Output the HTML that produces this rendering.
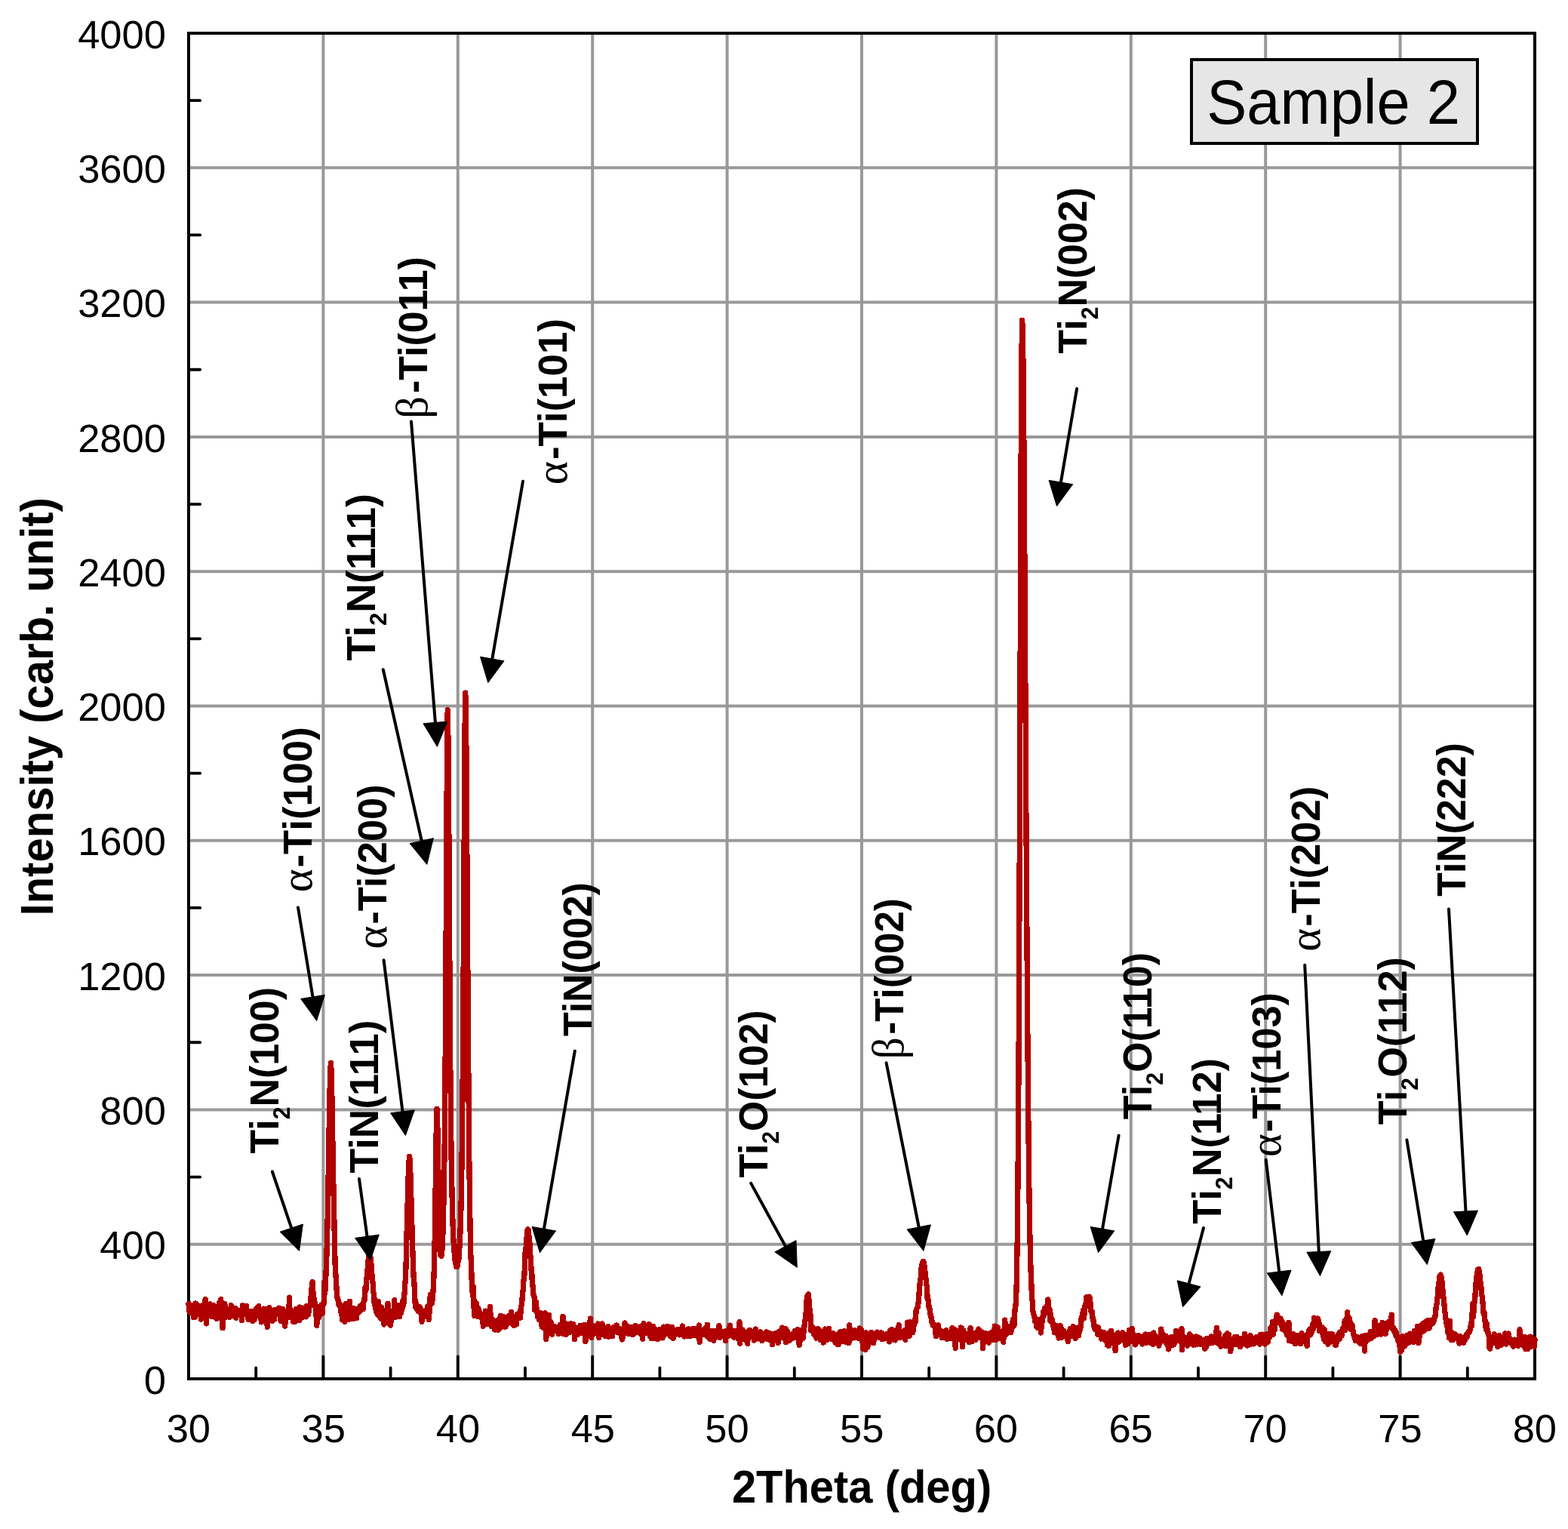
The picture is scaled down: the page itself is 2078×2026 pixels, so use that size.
<!DOCTYPE html>
<html lang="en"><head><meta charset="utf-8"><title>XRD pattern - Sample 2</title>
<style>
html,body{margin:0;padding:0;background:#fff;}
body{width:2078px;height:2026px;overflow:hidden;}
svg{display:block;}
text{white-space:pre;}
</style></head>
<body>
<svg width="2078" height="2026" viewBox="0 0 2078 2026">
<rect x="0" y="0" width="2078" height="2026" fill="#fff"/>
<path d="M428.40 44.0 V1827.0 M606.80 44.0 V1827.0 M785.20 44.0 V1827.0 M963.60 44.0 V1827.0 M1142.00 44.0 V1827.0 M1320.40 44.0 V1827.0 M1498.80 44.0 V1827.0 M1677.20 44.0 V1827.0 M1855.60 44.0 V1827.0 M250.0 1648.70 H2034.0 M250.0 1470.40 H2034.0 M250.0 1292.10 H2034.0 M250.0 1113.80 H2034.0 M250.0 935.50 H2034.0 M250.0 757.20 H2034.0 M250.0 578.90 H2034.0 M250.0 400.60 H2034.0 M250.0 222.30 H2034.0" stroke="#999999" stroke-width="4" fill="none"/>
<path d="M428.40 1827.0 v-29.6 M606.80 1827.0 v-29.6 M785.20 1827.0 v-29.6 M963.60 1827.0 v-29.6 M1142.00 1827.0 v-29.6 M1320.40 1827.0 v-29.6 M1498.80 1827.0 v-29.6 M1677.20 1827.0 v-29.6 M1855.60 1827.0 v-29.6 M339.20 1827.0 v-14.5 M517.60 1827.0 v-14.5 M696.00 1827.0 v-14.5 M874.40 1827.0 v-14.5 M1052.80 1827.0 v-14.5 M1231.20 1827.0 v-14.5 M1409.60 1827.0 v-14.5 M1588.00 1827.0 v-14.5 M1766.40 1827.0 v-14.5 M1944.80 1827.0 v-14.5 M250.0 1737.85 h15.2 M250.0 1559.55 h15.2 M250.0 1381.25 h15.2 M250.0 1202.95 h15.2 M250.0 1024.65 h15.2 M250.0 846.35 h15.2 M250.0 668.05 h15.2 M250.0 489.75 h15.2 M250.0 311.45 h15.2 M250.0 133.15 h15.2" stroke="#000" stroke-width="3.8" fill="none" stroke-linecap="round"/>
<rect x="250.0" y="44.0" width="1784.0" height="1783.0" fill="none" stroke="#000" stroke-width="4"/>
<path d="M250.0 1727.4 L250.7 1737.4 L251.4 1737.7 L252.1 1739.5 L252.9 1734.9 L253.6 1733.7 L254.3 1735.0 L255.0 1733.3 L255.7 1729.6 L256.4 1745.6 L257.1 1743.2 L257.8 1735.7 L258.6 1745.2 L259.3 1727.0 L260.0 1727.6 L260.7 1739.6 L261.4 1736.8 L262.1 1737.2 L262.8 1737.4 L263.6 1730.1 L264.3 1738.3 L265.0 1740.6 L265.7 1738.3 L266.4 1748.1 L267.1 1740.4 L267.8 1735.1 L268.6 1729.7 L269.3 1733.5 L270.0 1740.0 L270.7 1741.4 L271.4 1739.3 L272.1 1721.6 L272.8 1735.7 L273.5 1753.9 L274.3 1728.9 L275.0 1732.7 L275.7 1734.7 L276.4 1735.9 L277.1 1731.1 L277.8 1743.0 L278.5 1727.9 L279.3 1734.7 L280.0 1744.3 L280.7 1732.8 L281.4 1738.1 L282.1 1744.2 L282.8 1735.1 L283.5 1729.7 L284.3 1733.7 L285.0 1745.1 L285.7 1740.9 L286.4 1745.6 L287.1 1747.5 L287.8 1740.8 L288.5 1746.0 L289.2 1746.7 L290.0 1738.3 L290.7 1726.1 L291.4 1745.0 L292.1 1735.0 L292.8 1721.8 L293.5 1733.0 L294.2 1745.8 L295.0 1759.8 L295.7 1734.3 L296.4 1733.6 L297.1 1737.4 L297.8 1727.4 L298.5 1739.6 L299.2 1743.9 L300.0 1744.9 L300.7 1738.1 L301.4 1734.0 L302.1 1741.4 L302.8 1740.2 L303.5 1743.9 L304.2 1745.2 L304.9 1740.9 L305.7 1741.7 L306.4 1729.6 L307.1 1740.0 L307.8 1738.6 L308.5 1734.2 L309.2 1739.8 L309.9 1739.6 L310.7 1743.9 L311.4 1741.3 L312.1 1733.5 L312.8 1746.4 L313.5 1735.6 L314.2 1739.8 L314.9 1740.8 L315.7 1741.9 L316.4 1740.8 L317.1 1737.0 L317.8 1741.9 L318.5 1737.6 L319.2 1741.6 L319.9 1743.9 L320.6 1749.4 L321.4 1729.9 L322.1 1742.1 L322.8 1739.8 L323.5 1733.1 L324.2 1739.2 L324.9 1737.4 L325.6 1739.0 L326.4 1730.2 L327.1 1735.8 L327.8 1740.6 L328.5 1745.4 L329.2 1748.4 L329.9 1737.4 L330.6 1737.4 L331.4 1739.6 L332.1 1747.5 L332.8 1737.3 L333.5 1741.8 L334.2 1747.7 L334.9 1750.8 L335.6 1742.2 L336.3 1740.3 L337.1 1748.8 L337.8 1736.9 L338.5 1738.8 L339.2 1740.3 L339.9 1733.8 L340.6 1738.3 L341.3 1734.1 L342.1 1740.6 L342.8 1730.8 L343.5 1744.0 L344.2 1745.1 L344.9 1739.7 L345.6 1739.6 L346.3 1751.9 L347.0 1740.1 L347.8 1738.4 L348.5 1740.2 L349.2 1735.7 L349.9 1734.2 L350.6 1742.2 L351.3 1742.6 L352.0 1734.3 L352.8 1750.7 L353.5 1740.2 L354.2 1758.3 L354.9 1741.4 L355.6 1741.8 L356.3 1745.6 L357.0 1732.6 L357.8 1740.9 L358.5 1738.0 L359.2 1738.5 L359.9 1743.4 L360.6 1736.8 L361.3 1750.2 L362.0 1744.5 L362.7 1743.5 L363.5 1748.4 L364.2 1735.7 L364.9 1739.3 L365.6 1736.0 L366.3 1738.6 L367.0 1741.0 L367.7 1736.2 L368.5 1734.1 L369.2 1738.1 L369.9 1733.1 L370.6 1741.5 L371.3 1740.8 L372.0 1750.5 L372.7 1736.2 L373.5 1739.4 L374.2 1748.7 L374.9 1734.5 L375.6 1738.5 L376.3 1739.2 L377.0 1753.7 L377.7 1757.3 L378.4 1746.0 L379.2 1746.8 L379.9 1744.4 L380.6 1740.0 L381.3 1742.5 L382.0 1736.8 L382.7 1745.7 L383.4 1719.1 L384.2 1741.8 L384.9 1742.3 L385.6 1738.2 L386.3 1743.6 L387.0 1742.9 L387.7 1738.3 L388.4 1751.1 L389.2 1744.5 L389.9 1742.6 L390.6 1751.5 L391.3 1737.0 L392.0 1739.4 L392.7 1734.4 L393.4 1743.3 L394.1 1742.7 L394.9 1747.2 L395.6 1738.9 L396.3 1749.7 L397.0 1732.0 L397.7 1743.0 L398.4 1737.7 L399.1 1735.5 L399.9 1746.0 L400.6 1733.8 L401.3 1733.3 L402.0 1738.4 L402.7 1736.3 L403.4 1736.9 L404.1 1737.9 L404.9 1740.4 L405.6 1744.9 L406.3 1730.3 L407.0 1731.0 L407.7 1732.8 L408.4 1742.1 L409.1 1738.4 L409.8 1732.1 L410.6 1731.0 L411.3 1726.9 L412.0 1719.5 L412.7 1709.5 L413.4 1704.1 L414.1 1698.7 L414.8 1711.9 L415.6 1714.2 L416.3 1727.4 L417.0 1725.0 L417.7 1730.8 L418.4 1731.6 L419.1 1744.0 L419.8 1756.2 L420.6 1737.9 L421.3 1737.9 L422.0 1733.4 L422.7 1746.0 L423.4 1739.1 L424.1 1731.1 L424.8 1733.9 L425.5 1734.5 L426.3 1728.9 L427.0 1740.7 L427.7 1729.6 L428.4 1728.7 L429.1 1727.4 L429.8 1698.6 L430.5 1714.2 L431.3 1707.9 L432.0 1687.0 L432.7 1671.1 L433.4 1645.8 L434.1 1619.2 L434.8 1579.2 L435.5 1536.1 L436.2 1491.6 L437.0 1448.3 L437.7 1420.8 L438.4 1408.2 L439.1 1418.4 L439.8 1448.3 L440.5 1489.0 L441.2 1533.3 L442.0 1577.0 L442.7 1608.7 L443.4 1642.5 L444.1 1674.6 L444.8 1687.7 L445.5 1697.7 L446.2 1710.3 L447.0 1719.8 L447.7 1722.2 L448.4 1723.1 L449.1 1729.7 L449.8 1729.7 L450.5 1728.1 L451.2 1733.4 L451.9 1738.2 L452.7 1735.6 L453.4 1748.3 L454.1 1747.3 L454.8 1730.4 L455.5 1746.2 L456.2 1736.8 L456.9 1751.4 L457.7 1737.4 L458.4 1727.6 L459.1 1741.9 L459.8 1738.8 L460.5 1739.7 L461.2 1735.8 L461.9 1741.3 L462.7 1748.0 L463.4 1724.4 L464.1 1744.0 L464.8 1741.9 L465.5 1741.5 L466.2 1734.9 L466.9 1737.8 L467.6 1746.4 L468.4 1747.7 L469.1 1733.5 L469.8 1740.9 L470.5 1738.4 L471.2 1742.2 L471.9 1742.8 L472.6 1746.7 L473.4 1735.0 L474.1 1740.2 L474.8 1739.6 L475.5 1738.3 L476.2 1736.2 L476.9 1730.9 L477.6 1737.2 L478.4 1735.1 L479.1 1731.6 L479.8 1728.7 L480.5 1734.9 L481.2 1734.8 L481.9 1725.4 L482.6 1721.5 L483.3 1722.0 L484.1 1705.8 L484.8 1710.7 L485.5 1696.4 L486.2 1692.5 L486.9 1683.3 L487.6 1678.5 L488.3 1667.4 L489.1 1662.3 L489.8 1662.2 L490.5 1664.0 L491.2 1666.6 L491.9 1674.6 L492.6 1682.1 L493.3 1698.5 L494.1 1699.6 L494.8 1712.0 L495.5 1714.3 L496.2 1727.9 L496.9 1721.6 L497.6 1728.6 L498.3 1737.7 L499.0 1739.1 L499.8 1740.7 L500.5 1732.8 L501.2 1724.4 L501.9 1743.2 L502.6 1738.0 L503.3 1733.2 L504.0 1739.5 L504.8 1747.1 L505.5 1732.1 L506.2 1747.9 L506.9 1746.3 L507.6 1742.7 L508.3 1753.2 L509.0 1754.9 L509.8 1749.3 L510.5 1741.7 L511.2 1736.5 L511.9 1752.7 L512.6 1744.8 L513.3 1740.3 L514.0 1727.3 L514.7 1745.0 L515.5 1748.2 L516.2 1743.7 L516.9 1755.4 L517.6 1756.3 L518.3 1747.1 L519.0 1738.7 L519.7 1739.3 L520.5 1740.9 L521.2 1745.4 L521.9 1742.0 L522.6 1722.7 L523.3 1744.7 L524.0 1739.3 L524.7 1745.0 L525.4 1738.0 L526.2 1744.2 L526.9 1738.8 L527.6 1742.0 L528.3 1733.7 L529.0 1729.3 L529.7 1744.5 L530.4 1736.6 L531.2 1740.3 L531.9 1737.8 L532.6 1731.0 L533.3 1733.5 L534.0 1723.4 L534.7 1729.7 L535.4 1720.7 L536.2 1711.9 L536.9 1700.5 L537.6 1690.1 L538.3 1668.0 L539.0 1637.3 L539.7 1611.7 L540.4 1584.4 L541.1 1559.2 L541.9 1540.3 L542.6 1532.3 L543.3 1536.7 L544.0 1557.7 L544.7 1581.6 L545.4 1606.2 L546.1 1631.7 L546.9 1658.3 L547.6 1677.8 L548.3 1696.7 L549.0 1700.2 L549.7 1718.5 L550.4 1731.5 L551.1 1726.1 L551.9 1729.6 L552.6 1735.0 L553.3 1733.3 L554.0 1732.3 L554.7 1737.9 L555.4 1736.7 L556.1 1731.7 L556.8 1732.5 L557.6 1736.8 L558.3 1740.7 L559.0 1751.2 L559.7 1739.0 L560.4 1743.8 L561.1 1742.7 L561.8 1737.6 L562.6 1737.9 L563.3 1741.5 L564.0 1740.1 L564.7 1744.7 L565.4 1739.2 L566.1 1733.9 L566.8 1731.0 L567.6 1731.8 L568.3 1748.6 L569.0 1739.6 L569.7 1722.9 L570.4 1715.4 L571.1 1728.5 L571.8 1725.2 L572.5 1726.5 L573.3 1719.9 L574.0 1711.4 L574.7 1697.3 L575.4 1679.6 L576.1 1648.1 L576.8 1604.1 L577.5 1545.8 L578.3 1491.8 L579.0 1469.2 L579.7 1486.2 L580.4 1521.0 L581.1 1564.6 L581.8 1609.3 L582.5 1637.8 L583.3 1654.7 L584.0 1663.8 L584.7 1664.4 L585.4 1663.2 L586.1 1653.9 L586.8 1638.6 L587.5 1614.7 L588.2 1581.7 L589.0 1532.1 L589.7 1463.3 L590.4 1367.1 L591.1 1247.2 L591.8 1110.9 L592.5 991.8 L593.2 940.7 L594.0 981.1 L594.7 1077.5 L595.4 1199.3 L596.1 1310.9 L596.8 1410.7 L597.5 1483.5 L598.2 1540.2 L599.0 1580.0 L599.7 1610.1 L600.4 1632.6 L601.1 1646.2 L601.8 1654.1 L602.5 1665.7 L603.2 1670.8 L603.9 1674.6 L604.7 1678.5 L605.4 1676.6 L606.1 1678.2 L606.8 1673.5 L607.5 1669.4 L608.2 1666.8 L608.9 1653.3 L609.7 1638.8 L610.4 1620.9 L611.1 1595.0 L611.8 1555.3 L612.5 1498.0 L613.2 1425.7 L613.9 1327.3 L614.6 1205.7 L615.4 1075.4 L616.1 962.4 L616.8 918.0 L617.5 947.1 L618.2 1026.0 L618.9 1138.4 L619.6 1250.5 L620.4 1359.5 L621.1 1454.6 L621.8 1532.6 L622.5 1590.7 L623.2 1634.0 L623.9 1664.3 L624.6 1677.6 L625.4 1704.0 L626.1 1712.7 L626.8 1717.3 L627.5 1705.6 L628.2 1735.7 L628.9 1743.7 L629.6 1726.6 L630.3 1734.3 L631.1 1726.6 L631.8 1732.6 L632.5 1735.0 L633.2 1744.3 L633.9 1733.5 L634.6 1742.0 L635.3 1737.1 L636.1 1744.2 L636.8 1744.1 L637.5 1742.5 L638.2 1744.0 L638.9 1747.9 L639.6 1747.0 L640.3 1757.3 L641.1 1743.8 L641.8 1743.5 L642.5 1747.8 L643.2 1737.1 L643.9 1737.9 L644.6 1750.6 L645.3 1738.4 L646.0 1754.2 L646.8 1746.7 L647.5 1747.3 L648.2 1749.3 L648.9 1751.5 L649.6 1731.4 L650.3 1752.0 L651.0 1757.2 L651.8 1748.4 L652.5 1750.3 L653.2 1748.6 L653.9 1749.2 L654.6 1751.7 L655.3 1761.7 L656.0 1761.9 L656.8 1752.3 L657.5 1754.2 L658.2 1750.1 L658.9 1752.7 L659.6 1751.1 L660.3 1762.5 L661.0 1754.3 L661.7 1751.3 L662.5 1760.1 L663.2 1743.3 L663.9 1748.2 L664.6 1753.2 L665.3 1751.3 L666.0 1753.4 L666.7 1751.9 L667.5 1744.9 L668.2 1758.0 L668.9 1754.2 L669.6 1754.4 L670.3 1758.1 L671.0 1749.2 L671.7 1755.0 L672.5 1747.8 L673.2 1744.3 L673.9 1752.5 L674.6 1743.6 L675.3 1749.0 L676.0 1751.9 L676.7 1750.2 L677.4 1738.2 L678.2 1743.7 L678.9 1749.5 L679.6 1755.2 L680.3 1745.6 L681.0 1756.4 L681.7 1752.2 L682.4 1747.3 L683.2 1746.7 L683.9 1743.7 L684.6 1755.0 L685.3 1741.2 L686.0 1746.9 L686.7 1742.0 L687.4 1744.2 L688.2 1741.1 L688.9 1737.8 L689.6 1746.3 L690.3 1732.0 L691.0 1730.2 L691.7 1727.1 L692.4 1715.9 L693.1 1710.1 L693.9 1696.9 L694.6 1694.6 L695.3 1681.1 L696.0 1660.6 L696.7 1657.7 L697.4 1649.1 L698.1 1640.2 L698.9 1630.1 L699.6 1628.8 L700.3 1630.0 L701.0 1638.2 L701.7 1643.5 L702.4 1656.5 L703.1 1666.7 L703.8 1682.0 L704.6 1680.3 L705.3 1699.6 L706.0 1703.4 L706.7 1713.9 L707.4 1717.3 L708.1 1718.1 L708.8 1736.0 L709.6 1735.9 L710.3 1725.2 L711.0 1733.7 L711.7 1735.8 L712.4 1744.2 L713.1 1745.7 L713.8 1745.4 L714.6 1748.6 L715.3 1749.2 L716.0 1739.7 L716.7 1745.1 L717.4 1747.2 L718.1 1757.7 L718.8 1753.5 L719.5 1756.2 L720.3 1759.8 L721.0 1751.3 L721.7 1752.1 L722.4 1739.8 L723.1 1756.5 L723.8 1774.5 L724.5 1754.0 L725.3 1753.8 L726.0 1751.6 L726.7 1753.5 L727.4 1742.4 L728.1 1751.4 L728.8 1762.2 L729.5 1754.7 L730.3 1752.2 L731.0 1759.7 L731.7 1768.1 L732.4 1758.3 L733.1 1757.2 L733.8 1761.7 L734.5 1757.2 L735.2 1760.1 L736.0 1763.6 L736.7 1761.3 L737.4 1761.7 L738.1 1760.0 L738.8 1764.9 L739.5 1765.4 L740.2 1767.5 L741.0 1757.7 L741.7 1762.7 L742.4 1755.8 L743.1 1765.1 L743.8 1759.4 L744.5 1760.3 L745.2 1753.7 L746.0 1744.3 L746.7 1767.6 L747.4 1755.1 L748.1 1752.9 L748.8 1756.5 L749.5 1766.4 L750.2 1768.2 L750.9 1754.1 L751.7 1764.2 L752.4 1766.4 L753.1 1761.6 L753.8 1759.1 L754.5 1762.5 L755.2 1758.9 L755.9 1765.1 L756.7 1753.8 L757.4 1757.3 L758.1 1763.6 L758.8 1762.4 L759.5 1754.2 L760.2 1756.9 L760.9 1760.9 L761.7 1774.8 L762.4 1760.4 L763.1 1759.4 L763.8 1760.4 L764.5 1764.5 L765.2 1768.7 L765.9 1760.2 L766.6 1766.0 L767.4 1762.1 L768.1 1758.1 L768.8 1756.3 L769.5 1764.9 L770.2 1762.3 L770.9 1758.4 L771.6 1766.5 L772.4 1759.9 L773.1 1765.5 L773.8 1755.6 L774.5 1764.4 L775.2 1770.5 L775.9 1777.8 L776.6 1761.3 L777.4 1764.0 L778.1 1755.6 L778.8 1761.8 L779.5 1763.0 L780.2 1759.9 L780.9 1759.5 L781.6 1755.5 L782.3 1747.1 L783.1 1762.9 L783.8 1772.4 L784.5 1765.6 L785.2 1759.1 L785.9 1756.3 L786.6 1763.2 L787.3 1767.6 L788.1 1764.3 L788.8 1757.4 L789.5 1757.7 L790.2 1760.9 L790.9 1759.8 L791.6 1760.0 L792.3 1754.1 L793.0 1765.1 L793.8 1772.5 L794.5 1760.6 L795.2 1768.9 L795.9 1760.5 L796.6 1763.0 L797.3 1758.6 L798.0 1754.1 L798.8 1761.6 L799.5 1760.7 L800.2 1768.6 L800.9 1762.7 L801.6 1765.6 L802.3 1770.8 L803.0 1765.7 L803.8 1762.1 L804.5 1766.8 L805.2 1769.8 L805.9 1757.6 L806.6 1771.2 L807.3 1769.4 L808.0 1760.0 L808.7 1762.9 L809.5 1761.4 L810.2 1766.2 L810.9 1761.5 L811.6 1770.7 L812.3 1763.4 L813.0 1759.0 L813.7 1764.9 L814.5 1760.9 L815.2 1758.5 L815.9 1761.2 L816.6 1762.4 L817.3 1756.0 L818.0 1761.2 L818.7 1765.4 L819.5 1763.3 L820.2 1759.9 L820.9 1763.4 L821.6 1764.9 L822.3 1767.4 L823.0 1768.8 L823.7 1770.5 L824.4 1775.0 L825.2 1772.5 L825.9 1765.0 L826.6 1760.3 L827.3 1763.2 L828.0 1753.0 L828.7 1766.8 L829.4 1758.1 L830.2 1760.0 L830.9 1759.9 L831.6 1762.7 L832.3 1757.6 L833.0 1767.6 L833.7 1766.8 L834.4 1763.5 L835.2 1763.2 L835.9 1762.4 L836.6 1766.5 L837.3 1762.6 L838.0 1758.4 L838.7 1768.8 L839.4 1765.2 L840.1 1767.3 L840.9 1765.0 L841.6 1762.1 L842.3 1756.6 L843.0 1765.4 L843.7 1764.5 L844.4 1765.2 L845.1 1757.8 L845.9 1761.2 L846.6 1761.0 L847.3 1758.6 L848.0 1759.2 L848.7 1758.0 L849.4 1767.6 L850.1 1764.6 L850.9 1766.2 L851.6 1774.2 L852.3 1763.0 L853.0 1753.6 L853.7 1761.2 L854.4 1766.9 L855.1 1766.4 L855.8 1766.7 L856.6 1763.0 L857.3 1765.8 L858.0 1761.2 L858.7 1763.5 L859.4 1764.0 L860.1 1754.8 L860.8 1768.7 L861.6 1770.8 L862.3 1765.7 L863.0 1773.5 L863.7 1770.2 L864.4 1761.5 L865.1 1757.2 L865.8 1757.8 L866.6 1771.5 L867.3 1773.3 L868.0 1760.9 L868.7 1764.0 L869.4 1761.9 L870.1 1766.4 L870.8 1767.4 L871.5 1774.8 L872.3 1763.2 L873.0 1762.1 L873.7 1771.9 L874.4 1762.9 L875.1 1767.1 L875.8 1765.4 L876.5 1761.7 L877.3 1762.3 L878.0 1772.9 L878.7 1764.9 L879.4 1758.1 L880.1 1769.8 L880.8 1768.1 L881.5 1763.1 L882.2 1766.2 L883.0 1765.7 L883.7 1763.8 L884.4 1757.4 L885.1 1767.4 L885.8 1766.7 L886.5 1761.6 L887.2 1768.1 L888.0 1760.6 L888.7 1770.9 L889.4 1759.2 L890.1 1763.9 L890.8 1758.4 L891.5 1765.4 L892.2 1773.6 L893.0 1771.5 L893.7 1764.4 L894.4 1764.3 L895.1 1764.5 L895.8 1766.1 L896.5 1763.5 L897.2 1762.2 L897.9 1765.2 L898.7 1762.9 L899.4 1766.3 L900.1 1761.9 L900.8 1768.9 L901.5 1766.5 L902.2 1766.0 L902.9 1767.7 L903.7 1761.9 L904.4 1757.1 L905.1 1768.3 L905.8 1763.8 L906.5 1765.7 L907.2 1770.9 L907.9 1762.9 L908.7 1769.0 L909.4 1762.3 L910.1 1770.1 L910.8 1770.5 L911.5 1761.5 L912.2 1765.0 L912.9 1761.0 L913.6 1769.7 L914.4 1765.4 L915.1 1770.3 L915.8 1766.6 L916.5 1768.9 L917.2 1762.6 L917.9 1769.6 L918.6 1760.4 L919.4 1767.5 L920.1 1768.3 L920.8 1769.1 L921.5 1766.0 L922.2 1769.7 L922.9 1760.6 L923.6 1767.7 L924.4 1770.6 L925.1 1764.7 L925.8 1764.6 L926.5 1756.0 L927.2 1778.4 L927.9 1767.7 L928.6 1768.2 L929.3 1764.4 L930.1 1767.8 L930.8 1768.7 L931.5 1762.2 L932.2 1765.7 L932.9 1764.8 L933.6 1762.4 L934.3 1760.6 L935.1 1765.4 L935.8 1763.3 L936.5 1769.7 L937.2 1755.2 L937.9 1771.3 L938.6 1769.5 L939.3 1771.0 L940.1 1766.4 L940.8 1774.1 L941.5 1768.2 L942.2 1763.3 L942.9 1770.1 L943.6 1764.4 L944.3 1768.8 L945.0 1765.7 L945.8 1776.3 L946.5 1763.5 L947.2 1769.3 L947.9 1769.8 L948.6 1765.6 L949.3 1771.9 L950.0 1767.2 L950.8 1765.8 L951.5 1762.8 L952.2 1762.4 L952.9 1756.8 L953.6 1763.1 L954.3 1772.3 L955.0 1771.1 L955.8 1764.4 L956.5 1766.7 L957.2 1770.6 L957.9 1764.6 L958.6 1768.9 L959.3 1768.2 L960.0 1764.6 L960.7 1766.4 L961.5 1776.5 L962.2 1768.2 L962.9 1763.2 L963.6 1765.2 L964.3 1770.5 L965.0 1769.3 L965.7 1769.8 L966.5 1769.9 L967.2 1756.1 L967.9 1763.0 L968.6 1761.1 L969.3 1768.7 L970.0 1763.0 L970.7 1766.0 L971.4 1771.0 L972.2 1772.1 L972.9 1769.1 L973.6 1768.8 L974.3 1768.4 L975.0 1763.6 L975.7 1767.5 L976.4 1766.8 L977.2 1769.3 L977.9 1773.9 L978.6 1765.2 L979.3 1771.9 L980.0 1751.9 L980.7 1780.1 L981.4 1767.7 L982.2 1771.7 L982.9 1768.9 L983.6 1762.3 L984.3 1762.1 L985.0 1768.9 L985.7 1767.7 L986.4 1767.3 L987.1 1774.7 L987.9 1772.1 L988.6 1770.3 L989.3 1776.1 L990.0 1765.1 L990.7 1780.3 L991.4 1768.4 L992.1 1763.6 L992.9 1766.5 L993.6 1762.2 L994.3 1771.7 L995.0 1771.8 L995.7 1769.2 L996.4 1769.5 L997.1 1766.3 L997.9 1768.0 L998.6 1770.4 L999.3 1776.1 L1000.0 1763.9 L1000.7 1771.0 L1001.4 1761.0 L1002.1 1768.4 L1002.8 1770.6 L1003.6 1767.4 L1004.3 1773.9 L1005.0 1765.9 L1005.7 1771.1 L1006.4 1768.8 L1007.1 1772.1 L1007.8 1764.8 L1008.6 1767.9 L1009.3 1766.6 L1010.0 1776.7 L1010.7 1770.9 L1011.4 1774.8 L1012.1 1772.8 L1012.8 1772.0 L1013.6 1768.1 L1014.3 1766.0 L1015.0 1767.2 L1015.7 1764.7 L1016.4 1769.4 L1017.1 1774.1 L1017.8 1768.7 L1018.5 1766.1 L1019.3 1775.1 L1020.0 1768.2 L1020.7 1766.6 L1021.4 1771.7 L1022.1 1767.5 L1022.8 1775.1 L1023.5 1781.5 L1024.3 1772.0 L1025.0 1770.9 L1025.7 1770.0 L1026.4 1767.3 L1027.1 1776.8 L1027.8 1766.6 L1028.5 1766.9 L1029.3 1774.6 L1030.0 1772.1 L1030.7 1770.9 L1031.4 1779.4 L1032.1 1764.5 L1032.8 1764.7 L1033.5 1768.0 L1034.2 1763.3 L1035.0 1772.5 L1035.7 1772.6 L1036.4 1759.1 L1037.1 1767.6 L1037.8 1762.6 L1038.5 1773.2 L1039.2 1772.1 L1040.0 1767.4 L1040.7 1760.4 L1041.4 1778.8 L1042.1 1762.3 L1042.8 1771.1 L1043.5 1764.6 L1044.2 1772.7 L1045.0 1769.4 L1045.7 1769.0 L1046.4 1776.3 L1047.1 1773.7 L1047.8 1770.9 L1048.5 1769.2 L1049.2 1768.3 L1049.9 1772.2 L1050.7 1767.3 L1051.4 1773.0 L1052.1 1772.3 L1052.8 1767.5 L1053.5 1763.5 L1054.2 1769.5 L1054.9 1771.3 L1055.7 1766.7 L1056.4 1772.6 L1057.1 1761.8 L1057.8 1767.7 L1058.5 1767.3 L1059.2 1782.4 L1059.9 1771.6 L1060.6 1776.4 L1061.4 1762.8 L1062.1 1768.5 L1062.8 1769.5 L1063.5 1771.2 L1064.2 1773.6 L1064.9 1766.7 L1065.6 1761.2 L1066.4 1753.2 L1067.1 1748.8 L1067.8 1746.9 L1068.5 1731.6 L1069.2 1722.1 L1069.9 1716.9 L1070.6 1716.7 L1071.4 1714.8 L1072.1 1724.7 L1072.8 1733.0 L1073.5 1739.9 L1074.2 1742.4 L1074.9 1762.9 L1075.6 1759.2 L1076.3 1757.5 L1077.1 1758.9 L1077.8 1764.0 L1078.5 1768.2 L1079.2 1766.1 L1079.9 1761.0 L1080.6 1767.2 L1081.3 1768.5 L1082.1 1773.2 L1082.8 1765.8 L1083.5 1767.3 L1084.2 1760.9 L1084.9 1767.2 L1085.6 1762.7 L1086.3 1770.7 L1087.1 1769.2 L1087.8 1775.7 L1088.5 1766.0 L1089.2 1775.5 L1089.9 1764.8 L1090.6 1770.7 L1091.3 1779.0 L1092.0 1765.8 L1092.8 1764.2 L1093.5 1761.0 L1094.2 1776.1 L1094.9 1767.0 L1095.6 1771.3 L1096.3 1775.6 L1097.0 1771.2 L1097.8 1772.8 L1098.5 1760.2 L1099.2 1769.3 L1099.9 1770.1 L1100.6 1769.0 L1101.3 1770.4 L1102.0 1774.1 L1102.8 1769.3 L1103.5 1768.7 L1104.2 1766.6 L1104.9 1772.3 L1105.6 1770.3 L1106.3 1771.2 L1107.0 1778.6 L1107.7 1773.5 L1108.5 1774.1 L1109.2 1773.1 L1109.9 1781.4 L1110.6 1767.8 L1111.3 1781.6 L1112.0 1767.4 L1112.7 1765.3 L1113.5 1770.8 L1114.2 1768.1 L1114.9 1764.5 L1115.6 1777.5 L1116.3 1772.7 L1117.0 1775.2 L1117.7 1770.1 L1118.5 1773.6 L1119.2 1763.9 L1119.9 1774.2 L1120.6 1778.1 L1121.3 1768.1 L1122.0 1767.2 L1122.7 1770.7 L1123.4 1775.6 L1124.2 1772.0 L1124.9 1779.7 L1125.6 1755.8 L1126.3 1761.3 L1127.0 1769.1 L1127.7 1766.0 L1128.4 1774.0 L1129.2 1770.0 L1129.9 1767.1 L1130.6 1768.1 L1131.3 1772.7 L1132.0 1771.4 L1132.7 1763.0 L1133.4 1772.5 L1134.2 1770.4 L1134.9 1771.3 L1135.6 1770.7 L1136.3 1771.5 L1137.0 1767.0 L1137.7 1773.3 L1138.4 1771.2 L1139.1 1760.0 L1139.9 1760.4 L1140.6 1770.9 L1141.3 1762.0 L1142.0 1767.2 L1142.7 1766.5 L1143.4 1787.0 L1144.1 1769.5 L1144.9 1773.4 L1145.6 1766.2 L1146.3 1767.4 L1147.0 1788.4 L1147.7 1765.9 L1148.4 1774.8 L1149.1 1767.1 L1149.8 1785.1 L1150.6 1777.9 L1151.3 1767.4 L1152.0 1774.4 L1152.7 1769.0 L1153.4 1771.1 L1154.1 1768.3 L1154.8 1765.3 L1155.6 1774.2 L1156.3 1771.6 L1157.0 1773.6 L1157.7 1779.8 L1158.4 1772.3 L1159.1 1769.8 L1159.8 1772.4 L1160.6 1770.2 L1161.3 1766.6 L1162.0 1767.8 L1162.7 1765.2 L1163.4 1767.0 L1164.1 1768.9 L1164.8 1772.2 L1165.5 1766.8 L1166.3 1768.6 L1167.0 1766.2 L1167.7 1769.3 L1168.4 1766.1 L1169.1 1774.9 L1169.8 1771.4 L1170.5 1767.8 L1171.3 1773.1 L1172.0 1770.3 L1172.7 1771.2 L1173.4 1773.5 L1174.1 1772.6 L1174.8 1767.6 L1175.5 1773.6 L1176.3 1770.5 L1177.0 1768.1 L1177.7 1775.3 L1178.4 1777.9 L1179.1 1764.0 L1179.8 1770.9 L1180.5 1762.4 L1181.2 1763.6 L1182.0 1761.5 L1182.7 1773.8 L1183.4 1763.1 L1184.1 1774.2 L1184.8 1769.7 L1185.5 1768.6 L1186.2 1775.9 L1187.0 1769.4 L1187.7 1768.8 L1188.4 1767.4 L1189.1 1765.4 L1189.8 1760.6 L1190.5 1762.3 L1191.2 1755.9 L1192.0 1767.7 L1192.7 1772.6 L1193.4 1766.8 L1194.1 1771.6 L1194.8 1766.8 L1195.5 1767.3 L1196.2 1769.2 L1196.9 1768.8 L1197.7 1771.9 L1198.4 1763.0 L1199.1 1765.5 L1199.8 1775.3 L1200.5 1762.9 L1201.2 1771.2 L1201.9 1765.0 L1202.7 1752.1 L1203.4 1764.7 L1204.1 1757.0 L1204.8 1758.5 L1205.5 1770.2 L1206.2 1751.6 L1206.9 1758.8 L1207.7 1757.8 L1208.4 1758.0 L1209.1 1759.8 L1209.8 1765.5 L1210.5 1759.8 L1211.2 1756.1 L1211.9 1754.6 L1212.6 1748.4 L1213.4 1751.1 L1214.1 1736.4 L1214.8 1734.6 L1215.5 1733.4 L1216.2 1732.6 L1216.9 1727.4 L1217.6 1721.8 L1218.4 1708.7 L1219.1 1701.2 L1219.8 1695.1 L1220.5 1692.3 L1221.2 1678.7 L1221.9 1676.0 L1222.6 1672.8 L1223.4 1671.4 L1224.1 1672.6 L1224.8 1676.1 L1225.5 1681.3 L1226.2 1686.1 L1226.9 1693.1 L1227.6 1701.0 L1228.3 1704.7 L1229.1 1720.0 L1229.8 1722.1 L1230.5 1723.4 L1231.2 1733.6 L1231.9 1733.3 L1232.6 1738.4 L1233.3 1744.2 L1234.1 1744.5 L1234.8 1751.6 L1235.5 1751.2 L1236.2 1755.9 L1236.9 1755.2 L1237.6 1754.9 L1238.3 1755.1 L1239.0 1758.2 L1239.8 1765.5 L1240.5 1770.8 L1241.2 1756.2 L1241.9 1766.3 L1242.6 1764.0 L1243.3 1755.9 L1244.0 1766.9 L1244.8 1761.8 L1245.5 1762.0 L1246.2 1766.4 L1246.9 1763.9 L1247.6 1766.5 L1248.3 1772.6 L1249.0 1772.2 L1249.8 1766.6 L1250.5 1767.6 L1251.2 1769.1 L1251.9 1770.8 L1252.6 1764.2 L1253.3 1763.3 L1254.0 1762.4 L1254.7 1774.4 L1255.5 1768.7 L1256.2 1769.4 L1256.9 1767.0 L1257.6 1770.2 L1258.3 1767.9 L1259.0 1773.8 L1259.7 1768.8 L1260.5 1767.5 L1261.2 1768.0 L1261.9 1759.6 L1262.6 1769.1 L1263.3 1767.1 L1264.0 1772.0 L1264.7 1761.5 L1265.5 1766.7 L1266.2 1786.3 L1266.9 1763.9 L1267.6 1768.1 L1268.3 1767.3 L1269.0 1764.9 L1269.7 1771.6 L1270.4 1763.6 L1271.2 1765.7 L1271.9 1774.9 L1272.6 1768.0 L1273.3 1759.0 L1274.0 1768.9 L1274.7 1759.9 L1275.4 1784.7 L1276.2 1769.4 L1276.9 1763.2 L1277.6 1768.3 L1278.3 1775.7 L1279.0 1767.8 L1279.7 1771.1 L1280.4 1769.9 L1281.2 1769.8 L1281.9 1774.3 L1282.6 1767.5 L1283.3 1769.5 L1284.0 1774.0 L1284.7 1778.6 L1285.4 1773.5 L1286.1 1759.4 L1286.9 1765.4 L1287.6 1771.6 L1288.3 1777.6 L1289.0 1771.8 L1289.7 1767.5 L1290.4 1769.4 L1291.1 1766.3 L1291.9 1770.7 L1292.6 1775.6 L1293.3 1767.9 L1294.0 1766.3 L1294.7 1770.0 L1295.4 1768.3 L1296.1 1762.9 L1296.9 1761.0 L1297.6 1772.4 L1298.3 1762.8 L1299.0 1765.0 L1299.7 1771.9 L1300.4 1769.7 L1301.1 1768.5 L1301.8 1765.3 L1302.6 1786.7 L1303.3 1774.9 L1304.0 1771.1 L1304.7 1771.4 L1305.4 1768.6 L1306.1 1774.1 L1306.8 1767.0 L1307.6 1773.4 L1308.3 1771.3 L1309.0 1773.0 L1309.7 1778.5 L1310.4 1779.0 L1311.1 1768.0 L1311.8 1768.6 L1312.6 1766.1 L1313.3 1769.3 L1314.0 1770.3 L1314.7 1767.6 L1315.4 1764.8 L1316.1 1775.3 L1316.8 1767.1 L1317.5 1767.2 L1318.3 1757.1 L1319.0 1760.4 L1319.7 1765.5 L1320.4 1775.4 L1321.1 1767.3 L1321.8 1769.7 L1322.5 1758.7 L1323.3 1766.1 L1324.0 1766.4 L1324.7 1769.6 L1325.4 1767.9 L1326.1 1773.6 L1326.8 1774.0 L1327.5 1764.6 L1328.2 1768.5 L1329.0 1763.8 L1329.7 1778.4 L1330.4 1764.8 L1331.1 1769.8 L1331.8 1749.1 L1332.5 1765.8 L1333.2 1768.4 L1334.0 1763.4 L1334.7 1759.2 L1335.4 1762.7 L1336.1 1765.5 L1336.8 1760.9 L1337.5 1764.1 L1338.2 1757.9 L1339.0 1758.7 L1339.7 1765.6 L1340.4 1761.8 L1341.1 1759.2 L1341.8 1752.7 L1342.5 1748.6 L1343.2 1752.4 L1343.9 1756.5 L1344.7 1736.3 L1345.4 1737.1 L1346.1 1728.4 L1346.8 1715.8 L1347.5 1688.6 L1348.2 1644.2 L1348.9 1572.0 L1349.7 1471.2 L1350.4 1334.4 L1351.1 1164.7 L1351.8 969.6 L1352.5 769.2 L1353.2 592.6 L1353.9 469.2 L1354.7 424.2 L1355.4 442.3 L1356.1 491.8 L1356.8 574.0 L1357.5 673.8 L1358.2 789.3 L1358.9 912.9 L1359.6 1036.6 L1360.4 1157.0 L1361.1 1264.5 L1361.8 1362.5 L1362.5 1448.1 L1363.2 1520.1 L1363.9 1577.6 L1364.6 1624.1 L1365.4 1659.1 L1366.1 1684.5 L1366.8 1699.7 L1367.5 1719.4 L1368.2 1724.4 L1368.9 1737.6 L1369.6 1739.2 L1370.4 1744.1 L1371.1 1745.9 L1371.8 1751.1 L1372.5 1747.3 L1373.2 1749.9 L1373.9 1758.3 L1374.6 1759.4 L1375.3 1756.8 L1376.1 1752.1 L1376.8 1751.5 L1377.5 1748.8 L1378.2 1755.7 L1378.9 1755.5 L1379.6 1766.0 L1380.3 1753.7 L1381.1 1751.7 L1381.8 1748.0 L1382.5 1738.4 L1383.2 1743.3 L1383.9 1742.7 L1384.6 1733.4 L1385.3 1733.4 L1386.1 1736.0 L1386.8 1735.7 L1387.5 1730.3 L1388.2 1738.7 L1388.9 1722.0 L1389.6 1734.8 L1390.3 1739.3 L1391.0 1735.2 L1391.8 1750.4 L1392.5 1741.6 L1393.2 1747.7 L1393.9 1749.7 L1394.6 1749.6 L1395.3 1756.5 L1396.0 1754.0 L1396.8 1759.7 L1397.5 1765.6 L1398.2 1761.4 L1398.9 1760.9 L1399.6 1757.7 L1400.3 1756.3 L1401.0 1767.2 L1401.8 1764.2 L1402.5 1769.8 L1403.2 1772.9 L1403.9 1771.7 L1404.6 1770.7 L1405.3 1756.7 L1406.0 1758.6 L1406.7 1771.2 L1407.5 1771.9 L1408.2 1769.0 L1408.9 1770.5 L1409.6 1763.3 L1410.3 1768.2 L1411.0 1769.5 L1411.7 1766.4 L1412.5 1766.9 L1413.2 1770.9 L1413.9 1773.1 L1414.6 1771.9 L1415.3 1777.6 L1416.0 1769.9 L1416.7 1764.9 L1417.4 1768.3 L1418.2 1760.4 L1418.9 1763.7 L1419.6 1768.9 L1420.3 1767.3 L1421.0 1770.7 L1421.7 1766.3 L1422.4 1757.6 L1423.2 1769.9 L1423.9 1763.8 L1424.6 1765.0 L1425.3 1773.3 L1426.0 1759.8 L1426.7 1768.7 L1427.4 1770.2 L1428.2 1767.5 L1428.9 1761.7 L1429.6 1769.5 L1430.3 1762.9 L1431.0 1757.9 L1431.7 1761.4 L1432.4 1755.7 L1433.1 1746.2 L1433.9 1749.2 L1434.6 1746.1 L1435.3 1736.3 L1436.0 1735.4 L1436.7 1746.5 L1437.4 1731.6 L1438.1 1732.3 L1438.9 1731.0 L1439.6 1718.8 L1440.3 1721.6 L1441.0 1719.3 L1441.7 1718.7 L1442.4 1719.7 L1443.1 1721.9 L1443.9 1718.2 L1444.6 1727.9 L1445.3 1726.1 L1446.0 1737.8 L1446.7 1739.8 L1447.4 1738.3 L1448.1 1747.1 L1448.8 1747.1 L1449.6 1757.2 L1450.3 1755.6 L1451.0 1761.1 L1451.7 1760.3 L1452.4 1761.9 L1453.1 1758.7 L1453.8 1760.4 L1454.6 1768.1 L1455.3 1758.5 L1456.0 1762.6 L1456.7 1767.1 L1457.4 1766.4 L1458.1 1768.8 L1458.8 1765.8 L1459.6 1774.0 L1460.3 1765.0 L1461.0 1771.1 L1461.7 1768.3 L1462.4 1774.0 L1463.1 1765.5 L1463.8 1770.4 L1464.5 1776.2 L1465.3 1772.3 L1466.0 1774.5 L1466.7 1771.8 L1467.4 1782.2 L1468.1 1767.1 L1468.8 1767.4 L1469.5 1783.4 L1470.3 1777.2 L1471.0 1775.6 L1471.7 1772.2 L1472.4 1763.4 L1473.1 1779.5 L1473.8 1769.2 L1474.5 1770.9 L1475.3 1774.0 L1476.0 1768.9 L1476.7 1770.2 L1477.4 1777.0 L1478.1 1789.9 L1478.8 1771.6 L1479.5 1773.6 L1480.2 1773.2 L1481.0 1767.2 L1481.7 1766.1 L1482.4 1776.2 L1483.1 1778.2 L1483.8 1768.5 L1484.5 1771.6 L1485.2 1774.7 L1486.0 1774.1 L1486.7 1775.6 L1487.4 1775.8 L1488.1 1765.9 L1488.8 1768.7 L1489.5 1771.0 L1490.2 1767.9 L1491.0 1778.7 L1491.7 1782.5 L1492.4 1776.4 L1493.1 1769.7 L1493.8 1773.6 L1494.5 1780.8 L1495.2 1773.0 L1495.9 1773.5 L1496.7 1762.5 L1497.4 1769.1 L1498.1 1771.7 L1498.8 1772.2 L1499.5 1777.7 L1500.2 1760.4 L1500.9 1769.3 L1501.7 1770.7 L1502.4 1768.3 L1503.1 1778.3 L1503.8 1773.4 L1504.5 1781.9 L1505.2 1772.9 L1505.9 1774.7 L1506.6 1771.2 L1507.4 1777.0 L1508.1 1777.9 L1508.8 1769.5 L1509.5 1776.8 L1510.2 1772.1 L1510.9 1777.2 L1511.6 1772.1 L1512.4 1775.0 L1513.1 1778.3 L1513.8 1781.0 L1514.5 1779.8 L1515.2 1770.6 L1515.9 1776.7 L1516.6 1779.6 L1517.4 1773.2 L1518.1 1768.1 L1518.8 1779.5 L1519.5 1771.2 L1520.2 1771.9 L1520.9 1774.1 L1521.6 1773.6 L1522.3 1775.2 L1523.1 1768.8 L1523.8 1779.0 L1524.5 1774.5 L1525.2 1776.2 L1525.9 1774.5 L1526.6 1770.6 L1527.3 1768.7 L1528.1 1781.2 L1528.8 1766.0 L1529.5 1774.7 L1530.2 1776.0 L1530.9 1778.4 L1531.6 1774.4 L1532.3 1773.4 L1533.1 1773.5 L1533.8 1771.6 L1534.5 1772.9 L1535.2 1778.2 L1535.9 1783.0 L1536.6 1777.2 L1537.3 1775.1 L1538.0 1778.2 L1538.8 1761.1 L1539.5 1769.4 L1540.2 1768.6 L1540.9 1772.1 L1541.6 1768.4 L1542.3 1774.3 L1543.0 1772.7 L1543.8 1770.4 L1544.5 1777.7 L1545.2 1770.4 L1545.9 1780.5 L1546.6 1774.8 L1547.3 1777.3 L1548.0 1783.7 L1548.8 1787.9 L1549.5 1772.6 L1550.2 1777.7 L1550.9 1778.6 L1551.6 1781.6 L1552.3 1771.5 L1553.0 1782.8 L1553.7 1777.7 L1554.5 1779.9 L1555.2 1774.9 L1555.9 1781.6 L1556.6 1772.6 L1557.3 1772.6 L1558.0 1775.1 L1558.7 1763.5 L1559.5 1773.5 L1560.2 1767.8 L1560.9 1776.3 L1561.6 1773.3 L1562.3 1776.2 L1563.0 1775.4 L1563.7 1771.9 L1564.5 1776.7 L1565.2 1778.2 L1565.9 1760.7 L1566.6 1788.6 L1567.3 1773.4 L1568.0 1780.5 L1568.7 1770.7 L1569.4 1773.3 L1570.2 1775.1 L1570.9 1779.5 L1571.6 1779.3 L1572.3 1778.1 L1573.0 1781.3 L1573.7 1783.1 L1574.4 1772.7 L1575.2 1780.3 L1575.9 1775.1 L1576.6 1768.0 L1577.3 1776.1 L1578.0 1780.1 L1578.7 1771.2 L1579.4 1777.0 L1580.2 1771.0 L1580.9 1773.7 L1581.6 1782.3 L1582.3 1776.2 L1583.0 1776.1 L1583.7 1778.0 L1584.4 1781.9 L1585.1 1771.1 L1585.9 1778.8 L1586.6 1781.3 L1587.3 1780.6 L1588.0 1772.0 L1588.7 1775.7 L1589.4 1777.5 L1590.1 1773.1 L1590.9 1781.3 L1591.6 1774.9 L1592.3 1780.3 L1593.0 1778.2 L1593.7 1778.8 L1594.4 1777.7 L1595.1 1776.8 L1595.8 1779.3 L1596.6 1787.2 L1597.3 1775.0 L1598.0 1775.9 L1598.7 1784.9 L1599.4 1773.7 L1600.1 1777.7 L1600.8 1781.1 L1601.6 1774.7 L1602.3 1776.8 L1603.0 1779.8 L1603.7 1779.4 L1604.4 1778.1 L1605.1 1771.0 L1605.8 1778.4 L1606.6 1772.3 L1607.3 1773.9 L1608.0 1779.3 L1608.7 1774.8 L1609.4 1773.3 L1610.1 1773.4 L1610.8 1776.9 L1611.5 1777.3 L1612.3 1759.3 L1613.0 1774.3 L1613.7 1772.9 L1614.4 1780.2 L1615.1 1766.2 L1615.8 1774.7 L1616.5 1778.6 L1617.3 1781.2 L1618.0 1784.3 L1618.7 1779.6 L1619.4 1774.2 L1620.1 1778.0 L1620.8 1781.4 L1621.5 1779.0 L1622.3 1777.8 L1623.0 1773.4 L1623.7 1770.1 L1624.4 1783.5 L1625.1 1768.9 L1625.8 1778.1 L1626.5 1766.9 L1627.2 1777.3 L1628.0 1776.2 L1628.7 1768.5 L1629.4 1782.8 L1630.1 1777.0 L1630.8 1790.7 L1631.5 1778.0 L1632.2 1775.1 L1633.0 1778.0 L1633.7 1775.4 L1634.4 1776.2 L1635.1 1777.7 L1635.8 1778.2 L1636.5 1771.5 L1637.2 1774.4 L1638.0 1781.6 L1638.7 1779.1 L1639.4 1771.3 L1640.1 1773.5 L1640.8 1777.2 L1641.5 1782.2 L1642.2 1776.9 L1642.9 1776.0 L1643.7 1784.7 L1644.4 1774.7 L1645.1 1773.7 L1645.8 1774.7 L1646.5 1775.2 L1647.2 1780.9 L1647.9 1778.6 L1648.7 1777.4 L1649.4 1767.4 L1650.1 1773.6 L1650.8 1777.6 L1651.5 1779.1 L1652.2 1772.3 L1652.9 1783.0 L1653.7 1773.0 L1654.4 1771.2 L1655.1 1772.3 L1655.8 1780.6 L1656.5 1781.7 L1657.2 1769.5 L1657.9 1777.2 L1658.6 1775.3 L1659.4 1779.7 L1660.1 1778.2 L1660.8 1773.6 L1661.5 1780.9 L1662.2 1773.3 L1662.9 1777.1 L1663.6 1778.6 L1664.4 1776.2 L1665.1 1771.4 L1665.8 1774.3 L1666.5 1775.3 L1667.2 1775.2 L1667.9 1773.3 L1668.6 1779.0 L1669.4 1781.1 L1670.1 1773.5 L1670.8 1768.2 L1671.5 1772.4 L1672.2 1779.7 L1672.9 1768.1 L1673.6 1772.6 L1674.3 1771.8 L1675.1 1775.4 L1675.8 1768.9 L1676.5 1781.0 L1677.2 1771.0 L1677.9 1774.2 L1678.6 1772.3 L1679.3 1767.3 L1680.1 1778.5 L1680.8 1768.9 L1681.5 1768.0 L1682.2 1772.6 L1682.9 1769.8 L1683.6 1759.9 L1684.3 1762.6 L1685.0 1758.0 L1685.8 1763.8 L1686.5 1751.6 L1687.2 1768.1 L1687.9 1760.5 L1688.6 1758.8 L1689.3 1762.2 L1690.0 1749.7 L1690.8 1751.2 L1691.5 1749.9 L1692.2 1742.1 L1692.9 1747.7 L1693.6 1751.6 L1694.3 1751.2 L1695.0 1746.2 L1695.8 1753.3 L1696.5 1747.0 L1697.2 1747.1 L1697.9 1750.1 L1698.6 1750.2 L1699.3 1761.0 L1700.0 1753.0 L1700.7 1761.8 L1701.5 1755.7 L1702.2 1761.7 L1702.9 1763.4 L1703.6 1761.1 L1704.3 1765.8 L1705.0 1759.7 L1705.7 1769.5 L1706.5 1770.0 L1707.2 1767.9 L1707.9 1752.4 L1708.6 1776.5 L1709.3 1774.4 L1710.0 1768.1 L1710.7 1774.1 L1711.5 1773.1 L1712.2 1777.5 L1712.9 1773.1 L1713.6 1771.7 L1714.3 1767.4 L1715.0 1775.2 L1715.7 1773.0 L1716.4 1780.6 L1717.2 1777.2 L1717.9 1769.2 L1718.6 1780.0 L1719.3 1775.3 L1720.0 1773.4 L1720.7 1771.5 L1721.4 1774.9 L1722.2 1770.7 L1722.9 1772.6 L1723.6 1780.8 L1724.3 1775.7 L1725.0 1766.5 L1725.7 1777.1 L1726.4 1777.3 L1727.2 1771.9 L1727.9 1770.4 L1728.6 1776.2 L1729.3 1772.2 L1730.0 1771.2 L1730.7 1773.0 L1731.4 1769.7 L1732.1 1783.4 L1732.9 1768.1 L1733.6 1770.5 L1734.3 1764.0 L1735.0 1762.5 L1735.7 1761.3 L1736.4 1769.0 L1737.1 1763.9 L1737.9 1766.8 L1738.6 1761.9 L1739.3 1762.4 L1740.0 1754.3 L1740.7 1760.9 L1741.4 1746.1 L1742.1 1752.8 L1742.9 1754.6 L1743.6 1748.2 L1744.3 1755.6 L1745.0 1756.5 L1745.7 1756.8 L1746.4 1747.0 L1747.1 1749.9 L1747.8 1751.7 L1748.6 1763.8 L1749.3 1758.1 L1750.0 1761.9 L1750.7 1758.1 L1751.4 1763.6 L1752.1 1758.4 L1752.8 1766.7 L1753.6 1766.2 L1754.3 1774.6 L1755.0 1761.3 L1755.7 1765.0 L1756.4 1777.7 L1757.1 1769.9 L1757.8 1773.7 L1758.6 1771.5 L1759.3 1772.2 L1760.0 1781.3 L1760.7 1778.4 L1761.4 1767.5 L1762.1 1778.3 L1762.8 1770.4 L1763.5 1771.6 L1764.3 1778.2 L1765.0 1772.9 L1765.7 1767.6 L1766.4 1770.4 L1767.1 1774.8 L1767.8 1772.3 L1768.5 1774.3 L1769.3 1782.0 L1770.0 1776.8 L1770.7 1782.3 L1771.4 1776.3 L1772.1 1774.6 L1772.8 1769.3 L1773.5 1771.5 L1774.2 1774.8 L1775.0 1765.7 L1775.7 1773.8 L1776.4 1770.6 L1777.1 1766.3 L1777.8 1770.2 L1778.5 1768.9 L1779.2 1760.5 L1780.0 1762.0 L1780.7 1761.5 L1781.4 1757.1 L1782.1 1750.2 L1782.8 1762.5 L1783.5 1753.7 L1784.2 1749.7 L1785.0 1746.4 L1785.7 1738.9 L1786.4 1753.7 L1787.1 1752.1 L1787.8 1750.3 L1788.5 1747.0 L1789.2 1753.0 L1789.9 1761.5 L1790.7 1754.9 L1791.4 1757.7 L1792.1 1755.6 L1792.8 1762.4 L1793.5 1766.4 L1794.2 1769.3 L1794.9 1772.0 L1795.7 1773.0 L1796.4 1776.3 L1797.1 1776.2 L1797.8 1774.8 L1798.5 1774.2 L1799.2 1771.7 L1799.9 1775.1 L1800.7 1774.9 L1801.4 1778.5 L1802.1 1776.2 L1802.8 1775.0 L1803.5 1780.3 L1804.2 1778.1 L1804.9 1770.5 L1805.6 1775.2 L1806.4 1775.8 L1807.1 1776.4 L1807.8 1771.4 L1808.5 1790.1 L1809.2 1773.0 L1809.9 1769.4 L1810.6 1776.5 L1811.4 1773.6 L1812.1 1774.3 L1812.8 1775.4 L1813.5 1772.2 L1814.2 1768.3 L1814.9 1769.3 L1815.6 1772.3 L1816.4 1764.3 L1817.1 1773.5 L1817.8 1769.0 L1818.5 1765.2 L1819.2 1770.5 L1819.9 1770.1 L1820.6 1763.5 L1821.3 1770.1 L1822.1 1749.7 L1822.8 1768.5 L1823.5 1758.5 L1824.2 1766.0 L1824.9 1768.4 L1825.6 1756.8 L1826.3 1761.1 L1827.1 1762.4 L1827.8 1762.3 L1828.5 1763.0 L1829.2 1756.3 L1829.9 1758.3 L1830.6 1768.0 L1831.3 1761.0 L1832.1 1752.3 L1832.8 1753.9 L1833.5 1763.8 L1834.2 1758.2 L1834.9 1753.3 L1835.6 1754.2 L1836.3 1767.4 L1837.0 1757.4 L1837.8 1761.6 L1838.5 1753.4 L1839.2 1757.7 L1839.9 1755.5 L1840.6 1751.1 L1841.3 1755.2 L1842.0 1755.2 L1842.8 1749.5 L1843.5 1753.8 L1844.2 1742.1 L1844.9 1760.4 L1845.6 1761.1 L1846.3 1758.5 L1847.0 1762.9 L1847.8 1763.0 L1848.5 1761.7 L1849.2 1768.6 L1849.9 1764.2 L1850.6 1770.8 L1851.3 1769.6 L1852.0 1772.6 L1852.7 1776.4 L1853.5 1773.3 L1854.2 1773.4 L1854.9 1780.8 L1855.6 1791.3 L1856.3 1772.7 L1857.0 1777.3 L1857.7 1789.2 L1858.5 1776.4 L1859.2 1770.4 L1859.9 1772.4 L1860.6 1771.3 L1861.3 1784.0 L1862.0 1783.0 L1862.7 1775.3 L1863.4 1779.0 L1864.2 1778.8 L1864.9 1769.5 L1865.6 1770.9 L1866.3 1774.7 L1867.0 1779.3 L1867.7 1776.4 L1868.4 1767.1 L1869.2 1771.9 L1869.9 1774.4 L1870.6 1772.9 L1871.3 1773.4 L1872.0 1767.5 L1872.7 1775.5 L1873.4 1778.5 L1874.2 1763.9 L1874.9 1769.0 L1875.6 1765.7 L1876.3 1772.3 L1877.0 1768.9 L1877.7 1771.8 L1878.4 1757.4 L1879.1 1762.2 L1879.9 1779.6 L1880.6 1774.6 L1881.3 1770.7 L1882.0 1761.9 L1882.7 1766.2 L1883.4 1762.3 L1884.1 1758.8 L1884.9 1754.5 L1885.6 1753.6 L1886.3 1761.5 L1887.0 1763.8 L1887.7 1762.5 L1888.4 1756.6 L1889.1 1751.5 L1889.9 1760.5 L1890.6 1754.8 L1891.3 1752.8 L1892.0 1753.5 L1892.7 1749.4 L1893.4 1751.9 L1894.1 1760.2 L1894.8 1756.8 L1895.6 1750.8 L1896.3 1753.5 L1897.0 1749.4 L1897.7 1749.2 L1898.4 1753.9 L1899.1 1752.9 L1899.8 1751.2 L1900.6 1748.8 L1901.3 1746.4 L1902.0 1743.5 L1902.7 1737.2 L1903.4 1730.2 L1904.1 1727.6 L1904.8 1720.7 L1905.6 1716.4 L1906.3 1701.7 L1907.0 1699.6 L1907.7 1692.2 L1908.4 1690.1 L1909.1 1689.2 L1909.8 1691.3 L1910.5 1693.8 L1911.3 1702.2 L1912.0 1709.1 L1912.7 1718.2 L1913.4 1721.2 L1914.1 1730.0 L1914.8 1737.9 L1915.5 1741.9 L1916.3 1750.2 L1917.0 1753.9 L1917.7 1754.1 L1918.4 1760.8 L1919.1 1766.6 L1919.8 1764.5 L1920.5 1772.4 L1921.3 1750.3 L1922.0 1770.4 L1922.7 1773.3 L1923.4 1775.6 L1924.1 1765.7 L1924.8 1771.2 L1925.5 1775.6 L1926.2 1772.7 L1927.0 1771.8 L1927.7 1767.4 L1928.4 1769.8 L1929.1 1773.7 L1929.8 1769.5 L1930.5 1772.2 L1931.2 1774.0 L1932.0 1772.5 L1932.7 1775.2 L1933.4 1775.2 L1934.1 1780.0 L1934.8 1770.8 L1935.5 1777.2 L1936.2 1771.3 L1937.0 1772.1 L1937.7 1776.3 L1938.4 1777.8 L1939.1 1774.1 L1939.8 1779.4 L1940.5 1773.5 L1941.2 1776.4 L1941.9 1770.7 L1942.7 1769.6 L1943.4 1768.3 L1944.1 1772.0 L1944.8 1766.7 L1945.5 1767.1 L1946.2 1765.0 L1946.9 1764.0 L1947.7 1764.6 L1948.4 1761.9 L1949.1 1756.4 L1949.8 1752.2 L1950.5 1757.1 L1951.2 1737.9 L1951.9 1727.1 L1952.6 1744.6 L1953.4 1730.2 L1954.1 1724.6 L1954.8 1720.6 L1955.5 1705.8 L1956.2 1698.6 L1956.9 1691.1 L1957.6 1688.2 L1958.4 1682.2 L1959.1 1682.2 L1959.8 1681.6 L1960.5 1686.2 L1961.2 1690.6 L1961.9 1698.4 L1962.6 1701.5 L1963.4 1713.4 L1964.1 1717.7 L1964.8 1723.6 L1965.5 1732.0 L1966.2 1741.1 L1966.9 1738.7 L1967.6 1750.1 L1968.3 1749.9 L1969.1 1759.6 L1969.8 1762.4 L1970.5 1754.3 L1971.2 1764.8 L1971.9 1764.5 L1972.6 1766.8 L1973.3 1772.3 L1974.1 1786.1 L1974.8 1787.3 L1975.5 1773.7 L1976.2 1771.7 L1976.9 1774.3 L1977.6 1774.7 L1978.3 1771.7 L1979.1 1777.6 L1979.8 1777.9 L1980.5 1767.8 L1981.2 1779.8 L1981.9 1770.8 L1982.6 1772.6 L1983.3 1778.4 L1984.0 1770.2 L1984.8 1784.6 L1985.5 1780.1 L1986.2 1778.3 L1986.9 1769.5 L1987.6 1771.9 L1988.3 1773.7 L1989.0 1782.3 L1989.8 1776.8 L1990.5 1781.1 L1991.2 1773.5 L1991.9 1773.1 L1992.6 1774.4 L1993.3 1770.5 L1994.0 1776.6 L1994.8 1767.0 L1995.5 1778.4 L1996.2 1781.2 L1996.9 1769.2 L1997.6 1774.8 L1998.3 1775.7 L1999.0 1767.0 L1999.7 1776.0 L2000.5 1776.8 L2001.2 1776.2 L2001.9 1774.4 L2002.6 1775.4 L2003.3 1780.8 L2004.0 1776.4 L2004.7 1781.2 L2005.5 1784.1 L2006.2 1781.5 L2006.9 1775.9 L2007.6 1775.2 L2008.3 1780.3 L2009.0 1778.6 L2009.7 1775.3 L2010.5 1781.3 L2011.2 1781.8 L2011.9 1783.3 L2012.6 1780.0 L2013.3 1778.5 L2014.0 1761.8 L2014.7 1773.9 L2015.4 1780.5 L2016.2 1776.1 L2016.9 1780.6 L2017.6 1780.1 L2018.3 1783.0 L2019.0 1780.2 L2019.7 1781.5 L2020.4 1771.5 L2021.2 1777.4 L2021.9 1787.8 L2022.6 1774.3 L2023.3 1772.9 L2024.0 1778.0 L2024.7 1787.4 L2025.4 1781.8 L2026.2 1778.7 L2026.9 1775.3 L2027.6 1780.4 L2028.3 1771.1 L2029.0 1784.7 L2029.7 1777.6 L2030.4 1780.2 L2031.1 1778.0 L2031.9 1779.5 L2032.6 1777.5 L2033.3 1784.1 L2034.0 1774.8" stroke="#B00000" stroke-width="7.3" fill="none" stroke-linejoin="round" stroke-linecap="round" shape-rendering="crispEdges"/>
<text transform="translate(190.73 1846.60) scale(1.0090 1)" font-family="'Liberation Sans', sans-serif" font-size="52" font-weight="normal" fill="#000">0</text>
<text transform="translate(132.37 1668.30) scale(1.0090 1)" font-family="'Liberation Sans', sans-serif" font-size="52" font-weight="normal" fill="#000">400</text>
<text transform="translate(132.37 1490.00) scale(1.0090 1)" font-family="'Liberation Sans', sans-serif" font-size="52" font-weight="normal" fill="#000">800</text>
<text transform="translate(103.19 1311.70) scale(1.0090 1)" font-family="'Liberation Sans', sans-serif" font-size="52" font-weight="normal" fill="#000">1200</text>
<text transform="translate(103.19 1133.40) scale(1.0090 1)" font-family="'Liberation Sans', sans-serif" font-size="52" font-weight="normal" fill="#000">1600</text>
<text transform="translate(103.19 955.10) scale(1.0090 1)" font-family="'Liberation Sans', sans-serif" font-size="52" font-weight="normal" fill="#000">2000</text>
<text transform="translate(103.19 776.80) scale(1.0090 1)" font-family="'Liberation Sans', sans-serif" font-size="52" font-weight="normal" fill="#000">2400</text>
<text transform="translate(103.19 598.50) scale(1.0090 1)" font-family="'Liberation Sans', sans-serif" font-size="52" font-weight="normal" fill="#000">2800</text>
<text transform="translate(103.19 420.20) scale(1.0090 1)" font-family="'Liberation Sans', sans-serif" font-size="52" font-weight="normal" fill="#000">3200</text>
<text transform="translate(103.19 241.90) scale(1.0090 1)" font-family="'Liberation Sans', sans-serif" font-size="52" font-weight="normal" fill="#000">3600</text>
<text transform="translate(103.19 63.60) scale(1.0090 1)" font-family="'Liberation Sans', sans-serif" font-size="52" font-weight="normal" fill="#000">4000</text>
<text transform="translate(220.65 1911.20) scale(1.0090 1)" font-family="'Liberation Sans', sans-serif" font-size="52" font-weight="normal" fill="#000">30</text>
<text transform="translate(399.46 1911.20) scale(1.0090 1)" font-family="'Liberation Sans', sans-serif" font-size="52" font-weight="normal" fill="#000">35</text>
<text transform="translate(577.86 1911.20) scale(1.0090 1)" font-family="'Liberation Sans', sans-serif" font-size="52" font-weight="normal" fill="#000">40</text>
<text transform="translate(756.67 1911.20) scale(1.0090 1)" font-family="'Liberation Sans', sans-serif" font-size="52" font-weight="normal" fill="#000">45</text>
<text transform="translate(934.25 1911.20) scale(1.0090 1)" font-family="'Liberation Sans', sans-serif" font-size="52" font-weight="normal" fill="#000">50</text>
<text transform="translate(1113.06 1911.20) scale(1.0090 1)" font-family="'Liberation Sans', sans-serif" font-size="52" font-weight="normal" fill="#000">55</text>
<text transform="translate(1290.64 1911.20) scale(1.0090 1)" font-family="'Liberation Sans', sans-serif" font-size="52" font-weight="normal" fill="#000">60</text>
<text transform="translate(1469.45 1911.20) scale(1.0090 1)" font-family="'Liberation Sans', sans-serif" font-size="52" font-weight="normal" fill="#000">65</text>
<text transform="translate(1647.44 1911.20) scale(1.0090 1)" font-family="'Liberation Sans', sans-serif" font-size="52" font-weight="normal" fill="#000">70</text>
<text transform="translate(1826.25 1911.20) scale(1.0090 1)" font-family="'Liberation Sans', sans-serif" font-size="52" font-weight="normal" fill="#000">75</text>
<text transform="translate(2004.65 1911.20) scale(1.0090 1)" font-family="'Liberation Sans', sans-serif" font-size="52" font-weight="normal" fill="#000">80</text>
<text transform="translate(969.89 1991.00) scale(0.9497 1)" font-family="'Liberation Sans', sans-serif" font-size="61" font-weight="bold" fill="#000">2Theta (deg)</text>
<text transform="translate(70.10 1213.43) rotate(-90) scale(0.9513 1)" font-family="'Liberation Sans', sans-serif" font-size="61" font-weight="bold" fill="#000">Intensity (carb. unit)</text>
<g transform="translate(368.90 1528.40) rotate(-90) scale(0.9693 1)" fill="#000"><text x="0.00" y="0" font-family="'Liberation Sans', sans-serif" font-size="53.5" font-weight="bold">Ti</text><text x="46.58" y="15" font-family="'Liberation Sans', sans-serif" font-size="31" font-weight="bold">2</text><text x="63.82" y="0" font-family="'Liberation Sans', sans-serif" font-size="53.5" font-weight="bold">N(100)</text></g>
<g transform="translate(413.40 1182.34) rotate(-90) scale(0.9839 1)" fill="#000"><text x="0.00" y="0" font-family="'Liberation Serif', serif" font-size="60" font-weight="normal">α</text><text x="33.44" y="0" font-family="'Liberation Sans', sans-serif" font-size="53.5" font-weight="bold">-Ti(100)</text></g>
<g transform="translate(501.00 1554.60) rotate(-90) scale(0.9947 1)" fill="#000"><text x="0.00" y="0" font-family="'Liberation Sans', sans-serif" font-size="53.5" font-weight="bold">TiN(111)</text></g>
<g transform="translate(512.20 1257.54) rotate(-90) scale(0.9798 1)" fill="#000"><text x="0.00" y="0" font-family="'Liberation Serif', serif" font-size="60" font-weight="normal">α</text><text x="33.44" y="0" font-family="'Liberation Sans', sans-serif" font-size="53.5" font-weight="bold">-Ti(200)</text></g>
<g transform="translate(497.00 875.60) rotate(-90) scale(0.9999 1)" fill="#000"><text x="0.00" y="0" font-family="'Liberation Sans', sans-serif" font-size="53.5" font-weight="bold">Ti</text><text x="46.58" y="15" font-family="'Liberation Sans', sans-serif" font-size="31" font-weight="bold">2</text><text x="63.82" y="0" font-family="'Liberation Sans', sans-serif" font-size="53.5" font-weight="bold">N(111)</text></g>
<g transform="translate(566.00 554.64) rotate(-90) scale(0.9713 1)" fill="#000"><text x="0.00" y="0" font-family="'Liberation Serif', serif" font-size="60" font-weight="normal">β</text><text x="34.53" y="0" font-family="'Liberation Sans', sans-serif" font-size="53.5" font-weight="bold">-Ti(011)</text></g>
<g transform="translate(750.80 642.15) rotate(-90) scale(0.9881 1)" fill="#000"><text x="0.00" y="0" font-family="'Liberation Serif', serif" font-size="60" font-weight="normal">α</text><text x="33.44" y="0" font-family="'Liberation Sans', sans-serif" font-size="53.5" font-weight="bold">-Ti(101)</text></g>
<g transform="translate(784.20 1373.10) rotate(-90) scale(0.9708 1)" fill="#000"><text x="0.00" y="0" font-family="'Liberation Sans', sans-serif" font-size="53.5" font-weight="bold">TiN(002)</text></g>
<g transform="translate(1017.40 1560.50) rotate(-90) scale(0.9650 1)" fill="#000"><text x="0.00" y="0" font-family="'Liberation Sans', sans-serif" font-size="53.5" font-weight="bold">Ti</text><text x="46.58" y="15" font-family="'Liberation Sans', sans-serif" font-size="31" font-weight="bold">2</text><text x="63.82" y="0" font-family="'Liberation Sans', sans-serif" font-size="53.5" font-weight="bold">O(102)</text></g>
<g transform="translate(1197.00 1403.58) rotate(-90) scale(0.9536 1)" fill="#000"><text x="0.00" y="0" font-family="'Liberation Serif', serif" font-size="60" font-weight="normal">β</text><text x="34.53" y="0" font-family="'Liberation Sans', sans-serif" font-size="53.5" font-weight="bold">-Ti(002)</text></g>
<g transform="translate(1439.50 468.40) rotate(-90) scale(0.9689 1)" fill="#000"><text x="0.00" y="0" font-family="'Liberation Sans', sans-serif" font-size="53.5" font-weight="bold">Ti</text><text x="46.58" y="15" font-family="'Liberation Sans', sans-serif" font-size="31" font-weight="bold">2</text><text x="63.82" y="0" font-family="'Liberation Sans', sans-serif" font-size="53.5" font-weight="bold">N(002)</text></g>
<g transform="translate(1526.00 1483.20) rotate(-90) scale(0.9736 1)" fill="#000"><text x="0.00" y="0" font-family="'Liberation Sans', sans-serif" font-size="53.5" font-weight="bold">Ti</text><text x="46.58" y="15" font-family="'Liberation Sans', sans-serif" font-size="31" font-weight="bold">2</text><text x="63.82" y="0" font-family="'Liberation Sans', sans-serif" font-size="53.5" font-weight="bold">O(110)</text></g>
<g transform="translate(1617.90 1621.80) rotate(-90) scale(0.9799 1)" fill="#000"><text x="0.00" y="0" font-family="'Liberation Sans', sans-serif" font-size="53.5" font-weight="bold">Ti</text><text x="46.58" y="15" font-family="'Liberation Sans', sans-serif" font-size="31" font-weight="bold">2</text><text x="63.82" y="0" font-family="'Liberation Sans', sans-serif" font-size="53.5" font-weight="bold">N(112)</text></g>
<g transform="translate(1697.30 1532.94) rotate(-90) scale(0.9789 1)" fill="#000"><text x="0.00" y="0" font-family="'Liberation Serif', serif" font-size="60" font-weight="normal">α</text><text x="33.44" y="0" font-family="'Liberation Sans', sans-serif" font-size="53.5" font-weight="bold">-Ti(103)</text></g>
<g transform="translate(1749.20 1260.64) rotate(-90) scale(0.9835 1)" fill="#000"><text x="0.00" y="0" font-family="'Liberation Serif', serif" font-size="60" font-weight="normal">α</text><text x="33.44" y="0" font-family="'Liberation Sans', sans-serif" font-size="53.5" font-weight="bold">-Ti(202)</text></g>
<g transform="translate(1863.80 1490.20) rotate(-90) scale(0.9772 1)" fill="#000"><text x="0.00" y="0" font-family="'Liberation Sans', sans-serif" font-size="53.5" font-weight="bold">Ti</text><text x="46.58" y="15" font-family="'Liberation Sans', sans-serif" font-size="31" font-weight="bold">2</text><text x="63.82" y="0" font-family="'Liberation Sans', sans-serif" font-size="53.5" font-weight="bold">O(112)</text></g>
<g transform="translate(1942.00 1187.80) rotate(-90) scale(0.9689 1)" fill="#000"><text x="0.00" y="0" font-family="'Liberation Sans', sans-serif" font-size="53.5" font-weight="bold">TiN(222)</text></g>
<path d="M360.9 1552.5 L386.2 1627.2" stroke="#000" stroke-width="4" stroke-linecap="round" fill="none"/>
<path d="M396.5 1657.5 L371.1 1632.3 L401.4 1622.1 Z" fill="#000" stroke="#000" stroke-width="1" stroke-linejoin="round"/>
<path d="M395.0 1202.5 L414.5 1320.9" stroke="#000" stroke-width="4" stroke-linecap="round" fill="none"/>
<path d="M419.7 1352.5 L398.7 1323.5 L430.3 1318.3 Z" fill="#000" stroke="#000" stroke-width="1" stroke-linejoin="round"/>
<path d="M476.0 1562.0 L486.5 1638.3" stroke="#000" stroke-width="4" stroke-linecap="round" fill="none"/>
<path d="M490.8 1670.0 L470.6 1640.5 L502.3 1636.1 Z" fill="#000" stroke="#000" stroke-width="1" stroke-linejoin="round"/>
<path d="M508.6 1272.3 L533.5 1472.8" stroke="#000" stroke-width="4" stroke-linecap="round" fill="none"/>
<path d="M537.4 1504.6 L517.6 1474.8 L549.3 1470.9 Z" fill="#000" stroke="#000" stroke-width="1" stroke-linejoin="round"/>
<path d="M507.8 887.2 L558.8 1114.2" stroke="#000" stroke-width="4" stroke-linecap="round" fill="none"/>
<path d="M565.8 1145.4 L543.2 1117.7 L574.4 1110.7 Z" fill="#000" stroke="#000" stroke-width="1" stroke-linejoin="round"/>
<path d="M545.0 558.4 L576.9 957.4" stroke="#000" stroke-width="4" stroke-linecap="round" fill="none"/>
<path d="M579.4 989.3 L560.9 958.7 L592.8 956.1 Z" fill="#000" stroke="#000" stroke-width="1" stroke-linejoin="round"/>
<path d="M693.0 637.8 L652.3 873.1" stroke="#000" stroke-width="4" stroke-linecap="round" fill="none"/>
<path d="M646.8 904.6 L636.5 870.3 L668.0 875.8 Z" fill="#000" stroke="#000" stroke-width="1" stroke-linejoin="round"/>
<path d="M761.8 1392.6 L720.9 1628.3" stroke="#000" stroke-width="4" stroke-linecap="round" fill="none"/>
<path d="M715.4 1659.8 L705.1 1625.5 L736.6 1631.0 Z" fill="#000" stroke="#000" stroke-width="1" stroke-linejoin="round"/>
<path d="M995.2 1567.9 L1040.9 1651.3" stroke="#000" stroke-width="4" stroke-linecap="round" fill="none"/>
<path d="M1056.3 1679.4 L1026.9 1659.0 L1055.0 1643.6 Z" fill="#000" stroke="#000" stroke-width="1" stroke-linejoin="round"/>
<path d="M1174.6 1408.4 L1217.7 1626.0" stroke="#000" stroke-width="4" stroke-linecap="round" fill="none"/>
<path d="M1223.9 1657.4 L1202.0 1629.1 L1233.4 1622.9 Z" fill="#000" stroke="#000" stroke-width="1" stroke-linejoin="round"/>
<path d="M1427.1 515.0 L1405.9 639.1" stroke="#000" stroke-width="4" stroke-linecap="round" fill="none"/>
<path d="M1400.5 670.6 L1390.1 636.4 L1421.7 641.8 Z" fill="#000" stroke="#000" stroke-width="1" stroke-linejoin="round"/>
<path d="M1482.6 1504.6 L1461.0 1628.3" stroke="#000" stroke-width="4" stroke-linecap="round" fill="none"/>
<path d="M1455.5 1659.8 L1445.2 1625.5 L1476.8 1631.0 Z" fill="#000" stroke="#000" stroke-width="1" stroke-linejoin="round"/>
<path d="M1595.0 1627.1 L1575.6 1700.8" stroke="#000" stroke-width="4" stroke-linecap="round" fill="none"/>
<path d="M1567.5 1731.8 L1560.2 1696.8 L1591.1 1704.9 Z" fill="#000" stroke="#000" stroke-width="1" stroke-linejoin="round"/>
<path d="M1677.7 1536.8 L1695.2 1685.0" stroke="#000" stroke-width="4" stroke-linecap="round" fill="none"/>
<path d="M1698.9 1716.8 L1679.3 1686.9 L1711.0 1683.1 Z" fill="#000" stroke="#000" stroke-width="1" stroke-linejoin="round"/>
<path d="M1729.2 1278.8 L1747.8 1658.5" stroke="#000" stroke-width="4" stroke-linecap="round" fill="none"/>
<path d="M1749.4 1690.5 L1731.9 1659.3 L1763.8 1657.8 Z" fill="#000" stroke="#000" stroke-width="1" stroke-linejoin="round"/>
<path d="M1864.4 1510.5 L1886.2 1644.0" stroke="#000" stroke-width="4" stroke-linecap="round" fill="none"/>
<path d="M1891.3 1675.6 L1870.4 1646.6 L1901.9 1641.4 Z" fill="#000" stroke="#000" stroke-width="1" stroke-linejoin="round"/>
<path d="M1920.0 1204.6 L1942.5 1605.0" stroke="#000" stroke-width="4" stroke-linecap="round" fill="none"/>
<path d="M1944.3 1636.9 L1926.5 1605.8 L1958.5 1604.1 Z" fill="#000" stroke="#000" stroke-width="1" stroke-linejoin="round"/>
<rect x="1579" y="79" width="379" height="111" fill="#E6E6E6" stroke="#000" stroke-width="4"/>
<text transform="translate(1599.32 164.00) scale(0.9632 1)" font-family="'Liberation Sans', sans-serif" font-size="82.5" font-weight="normal" fill="#000">Sample 2</text>
</svg>
</body></html>
